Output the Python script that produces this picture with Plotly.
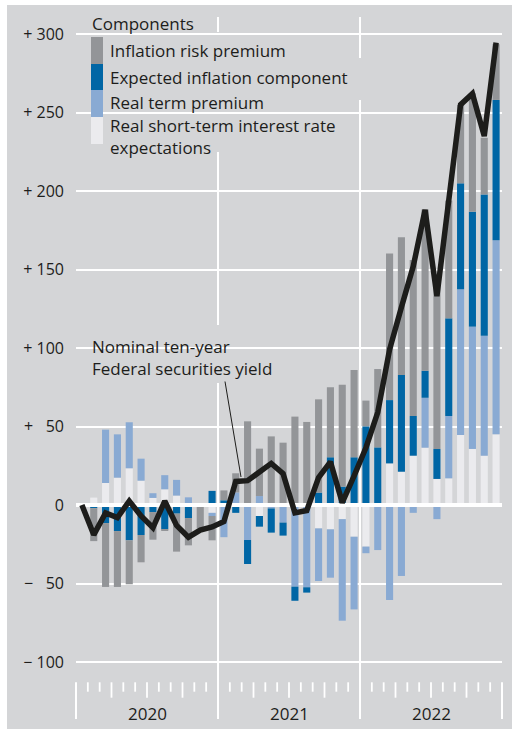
import plotly.graph_objects as go

years = ["2020", "2021", "2022"]

# monthly changes since the start of 2020, basis points
real_short_term = [0, 4.7, 14, 17.4, 23.4, 15.5, 4.5, 10, 6, 0, 0, -5,
                   0, 0, 0, -7, 0, 0, 0, 0, -14.9, -15.5, -9, -20.2,
                   -26.5, 0, 26.5, 21.2, 31.4, 36.5, 16.6, 17, 44.6, 35.7, 31.4, 45]
real_term_premium = [0, 0, 34, 27.6, 29.3, 14, 3, 9, 10, 4.9, -1, -2,
                     -20.5, 8, -22.3, 5.7, -2.2, -11.2, -52, -52.4, -33.5, -30.8, -64.7, -46.3,
                     -4.2, -28.7, -60.5, -45.2, -5, 31.8, -9, 39.7, 92.8, 77.9, 76.4, 123.6]
expected_inflation = [0, -2, -11.5, -16.6, -22.5, -19.1, -4.5, -15.5, -5.5, -8.3, 0, 9,
                      3, -5, -15.3, -6.8, -15.4, -8.3, -9, -3.4, 7.9, 30.4, 11.7, 30.4,
                      50.1, 36.7, 40.3, 61.6, 25.3, 17.2, 19.1, 62.2, 67.5, 73.2, 90, 89.4]
inflation_risk = [0, -21, -40.7, -35.6, -28, -17.4, -17.6, -1, -24.2, -17.4, -14, -15.5,
                  6.3, 12.2, 53.3, 30.2, 43.7, 39.7, 56.3, 52.9, 59.4, 44.6, 64.9, 55.6,
                  16.4, 49.9, 93.4, 87.7, 99.4, 102.7, 106, 75, 49.9, 75.4, 36.1, 35.5]
nominal_yield = [0, -19, -5, -8, 2.5, -7, -14.5, 2.5, -13, -20.5, -16, -14,
                 -10.5, 15, 15.5, 21.5, 26.5, 20, -5, -3.5, 17.5, 27.5, 1.5, 18.5,
                 36.5, 59, 99, 126, 152, 188, 133, 194, 255, 262, 235, 294.5]

tick_vals = [-100, -50, 0, 50, 100, 150, 200, 250, 300]
tick_text = ["\u2212 100", "\u2212   50", "0", "+   50", "+ 100", "+ 150", "+ 200", "+ 250", "+ 300"]

components = [
    ("Real short-term interest rate expectations", real_short_term, "#ebebee"),
    ("Real term premium", real_term_premium, "#89aad3"),
    ("Expected inflation component", expected_inflation, "#0066a5"),
    ("Inflation risk premium", inflation_risk, "#939598"),
]

BG = "#d4d5d7"
INK = "#1d1d1b"
FONT = "Open Sans"

n = len(nominal_yield)
x = list(range(n))
x_min, x_max = -0.5, n - 0.5

# page pixel layout of the plot area (figure is offset 7px/5px on the page)
PL, PR, PT, PB = 76, 502, 17, 720
y_top = (505 - PT) / 1.57
y_bot = -(PB - 505) / 1.57


def px(p):
    return (p - PL) / (PR - PL)


def py(p):
    return (PB - p) / (PB - PT)


def val(p):
    return (505 - p) / 1.57


fig = go.Figure()

for name, values, color in components:
    fig.add_trace(go.Bar(x=x, y=values, name=name, marker_color=color,
                         marker_line_width=0, width=0.6, showlegend=False))

# zero line sits over the bars but under the yield line
fig.add_trace(go.Scatter(x=[x_min, x_max], y=[0, 0], mode="lines",
                         line=dict(color="white", width=4),
                         hoverinfo="skip", showlegend=False))

fig.add_trace(go.Scatter(x=x, y=nominal_yield, mode="lines",
                         name="Nominal ten-year Federal securities yield",
                         line=dict(color=INK, width=5.5), showlegend=False))

shapes = []

# year separators: full height inside, tick-area only at the outer edges
for k in range(len(years) + 1):
    top = 682.3 if k in (0, len(years)) else PT
    shapes.append(dict(type="line", xref="paper", yref="paper",
                       x0=k * 12 / n, x1=k * 12 / n, y0=py(719), y1=py(top),
                       line=dict(color="white", width=2), layer="between"))

# month / quarter ticks
for k in range(1, n):
    if k % 12 == 0:
        continue
    bottom = 697.7 if k % 3 == 0 else 691.7
    shapes.append(dict(type="line", xref="x", yref="y",
                       x0=k - 0.5, x1=k - 0.5, y0=val(682.3), y1=val(bottom),
                       line=dict(color="white", width=1.8), layer="between"))

# backgrounds behind legend and label text (hide the grid)
for x0, x1, y0, y1 in [(80, 300, 32, 58), (80, 364, 58, 100), (80, 352, 100, 152),
                       (83, 238, 325, 383)]:
    shapes.append(dict(type="rect", xref="paper", yref="paper",
                       x0=px(x0), x1=px(x1), y0=py(y1), y1=py(y0),
                       fillcolor=BG, line_width=0, layer="between"))

# legend swatches
swatch_rows = [(37, 64), (64, 90), (90, 117), (117, 144)]
for (y0, y1), (_, _, color) in zip(swatch_rows, components[::-1]):
    shapes.append(dict(type="rect", xref="paper", yref="paper",
                       x0=px(91), x1=px(103), y0=py(y1), y1=py(y0),
                       fillcolor=color, line_width=0, layer="above"))

# pointer from label to the yield line
shapes.append(dict(type="line", xref="x", yref="y",
                   x0=(225 - PL) / 11.833 - 0.5, y0=val(381.5),
                   x1=(241 - PL) / 11.833 - 0.5, y1=val(477),
                   line=dict(color=INK, width=1), layer="above"))

annotations = []


def label(text, left, cy, size=17):
    annotations.append(dict(text=text, xref="paper", yref="paper",
                            x=px(left), y=py(cy), xanchor="left", yanchor="middle",
                            align="left", showarrow=False, borderpad=0,
                            font=dict(family=FONT, size=size, color=INK)))


label("Components", 91, 23)
label("Inflation risk premium", 109, 51)
label("Expected inflation component", 109, 78)
label("Real term premium", 109, 102)
label("Real short-term interest rate<br>expectations", 109, 136)
label("Nominal ten-year<br>Federal securities yield", 91, 357)

for k, year in enumerate(years):
    annotations.append(dict(text=year, xref="x", yref="y",
                            x=k * 12 + 5.5, y=val(713), showarrow=False,
                            xanchor="center", yanchor="middle",
                            font=dict(family=FONT, size=17, color=INK)))

fig.update_layout(
    width=505,
    height=724,
    margin=dict(l=PL - 7, r=512 - PR, t=PT - 5, b=729 - PB, pad=0),
    paper_bgcolor=BG,
    plot_bgcolor=BG,
    barmode="relative",
    bargap=0.4,
    shapes=shapes,
    annotations=annotations,
    font=dict(family=FONT, color=INK),
    xaxis=dict(range=[x_min, x_max], showgrid=False, zeroline=False,
               showticklabels=False, ticks="", showline=False, fixedrange=True),
    yaxis=dict(range=[y_bot, y_top], tickvals=tick_vals, ticktext=tick_text,
               showgrid=True, gridcolor="white", gridwidth=2, zeroline=False,
               ticks="", ticklabelstandoff=11, showline=False,
               tickfont=dict(family=FONT, size=16, color=INK), fixedrange=True),
)

fig.write_html("out.html", post_script="document.body.style.margin='5px 0 0 7px';")
